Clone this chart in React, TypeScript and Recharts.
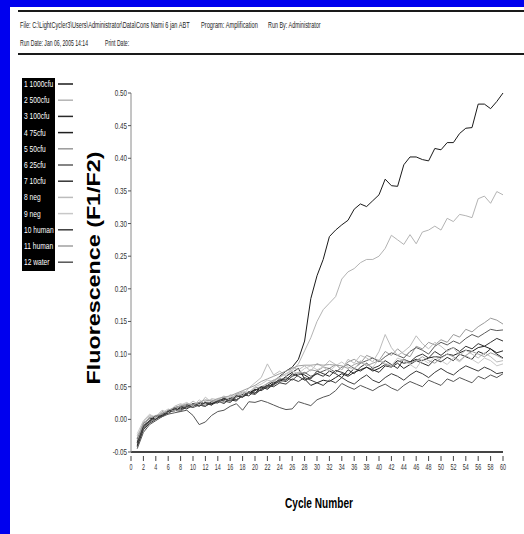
import React from 'react'
import { LineChart, Line, XAxis, YAxis, Legend } from 'recharts'

const cycles = [
  1, 2, 3, 4, 5, 6, 7, 8, 9, 10, 11, 12, 13, 14, 15, 16, 17, 18, 19, 20,
  21, 22, 23, 24, 25, 26, 27, 28, 29, 30, 31, 32, 33, 34, 35, 36, 37, 38, 39, 40,
  41, 42, 43, 44, 45, 46, 47, 48, 49, 50, 51, 52, 53, 54, 55, 56, 57, 58, 59, 60
]

const xTicks = [0, 2, 4, 6, 8, 10, 12, 14, 16, 18, 20, 22, 24, 26, 28, 30, 32, 34, 36, 38, 40, 42, 44, 46, 48, 50, 52, 54, 56, 58, 60]
const yTicks = [-0.05, 0, 0.05, 0.1, 0.15, 0.2, 0.25, 0.3, 0.35, 0.4, 0.45, 0.5]

const s1000cfu = [
  -0.035, -0.01, -0.002, 0.005, 0.008, 0.012, 0.018, 0.02, 0.022, 0.022,
  0.024, 0.025, 0.024, 0.026, 0.03, 0.032, 0.03, 0.036, 0.04, 0.045,
  0.048, 0.052, 0.058, 0.066, 0.074, 0.08, 0.092, 0.12, 0.185, 0.22,
  0.245, 0.28, 0.29, 0.298, 0.305, 0.322, 0.33, 0.326, 0.335, 0.344,
  0.368, 0.358, 0.357, 0.39, 0.402, 0.402, 0.398, 0.396, 0.415, 0.413,
  0.424, 0.424, 0.438, 0.446, 0.447, 0.483, 0.483, 0.476, 0.487, 0.5
]
const s500cfu = [
  -0.03, -0.005, 0.0, 0.003, 0.01, 0.012, 0.015, 0.02, 0.018, 0.022,
  0.025, 0.022, 0.028, 0.03, 0.028, 0.034, 0.036, 0.04, 0.042, 0.048,
  0.05, 0.055, 0.06, 0.065, 0.07, 0.075, 0.085, 0.105, 0.125, 0.15,
  0.168, 0.178, 0.188, 0.215, 0.226, 0.231, 0.24, 0.245, 0.245, 0.25,
  0.262, 0.282, 0.275, 0.268, 0.283, 0.269, 0.287, 0.29, 0.296, 0.29,
  0.308, 0.303, 0.314, 0.312, 0.309, 0.338, 0.342, 0.331, 0.349, 0.344
]
const s100cfu = [
  -0.04, -0.012, -0.003, 0.004, 0.006, 0.014, 0.012, 0.02, 0.018, 0.024,
  0.022, 0.02, 0.027, 0.025, 0.032, 0.03, 0.028, 0.038, 0.042, 0.04,
  0.05, 0.048, 0.056, 0.06, 0.058, 0.066, 0.07, 0.068, 0.062, 0.074,
  0.07, 0.066, 0.075, 0.072, 0.068, 0.078, 0.074, 0.08, 0.076, 0.072,
  0.082, 0.08, 0.086, 0.078, 0.084, 0.09, 0.086, 0.082, 0.092, 0.088,
  0.095, 0.09, 0.1, 0.096, 0.092, 0.104, 0.1, 0.108, 0.102, 0.105
]
const s75cfu = [
  -0.03, -0.006, 0.002, 0.0, 0.01, 0.012, 0.018, 0.016, 0.022, 0.02,
  0.024, 0.026, 0.024, 0.028, 0.026, 0.032, 0.036, 0.034, 0.04, 0.046,
  0.044, 0.05, 0.054, 0.058, 0.066, 0.072, 0.078, 0.062, 0.052, 0.056,
  0.06, 0.058, 0.064, 0.07, 0.066, 0.072, 0.076, 0.08, 0.074, 0.078,
  0.084, 0.082, 0.09, 0.086, 0.088, 0.092, 0.09, 0.094, 0.096, 0.095,
  0.1, 0.098, 0.102, 0.106, 0.104, 0.11, 0.112, 0.108, 0.1, 0.094
]
const s50cfu = [
  -0.025, -0.01, 0.004, 0.002, 0.012, 0.008, 0.016, 0.022, 0.018, 0.024,
  0.02, 0.028, 0.03, 0.026, 0.034, 0.03, 0.038, 0.042, 0.04, 0.05,
  0.046, 0.055, 0.06, 0.056, 0.062, 0.068, 0.072, 0.07, 0.076, 0.074,
  0.08, 0.078, 0.084, 0.076, 0.088, 0.092, 0.086, 0.098, 0.094, 0.09,
  0.104, 0.098, 0.108, 0.1, 0.096, 0.112, 0.108, 0.118, 0.114, 0.122,
  0.118, 0.13, 0.126, 0.138, 0.134, 0.142, 0.148, 0.155, 0.152, 0.146
]
const s25cfu = [
  -0.038, -0.014, -0.004, 0.002, 0.004, 0.01, 0.014, 0.012, 0.02, 0.018,
  0.022, 0.02, 0.026, 0.028, 0.024, 0.032, 0.03, 0.036, 0.04, 0.038,
  0.046, 0.05, 0.052, 0.06, 0.064, 0.06, 0.068, 0.072, 0.066, 0.07,
  0.074, 0.078, 0.072, 0.08, 0.084, 0.078, 0.086, 0.09, 0.094, 0.088,
  0.096, 0.102, 0.098, 0.094, 0.104, 0.11, 0.106, 0.1, 0.112, 0.118,
  0.114, 0.12, 0.116, 0.124, 0.13, 0.126, 0.132, 0.138, 0.136, 0.137
]
const s10cfu = [
  -0.042, -0.016, -0.006, 0.0, 0.006, 0.01, 0.016, 0.018, 0.016, 0.022,
  0.026, 0.024, 0.022, 0.03, 0.028, 0.026, 0.034, 0.038, 0.036, 0.044,
  0.05, 0.046, 0.054, 0.062, 0.06, 0.07, 0.066, 0.06, 0.064, 0.07,
  0.066, 0.074, 0.07, 0.064, 0.076, 0.07, 0.08, 0.086, 0.078, 0.082,
  0.09, 0.084, 0.078, 0.092, 0.088, 0.096, 0.1, 0.094, 0.104, 0.098,
  0.106, 0.11, 0.104, 0.112, 0.108, 0.116, 0.112, 0.118, 0.124, 0.12
]
const sNeg8 = [
  -0.028, -0.004, 0.006, 0.004, 0.014, 0.01, 0.02, 0.024, 0.02, 0.028,
  0.022, 0.034, 0.026, 0.03, 0.036, 0.028, 0.04, 0.036, 0.048, 0.056,
  0.064, 0.085, 0.068, 0.074, 0.066, 0.08, 0.076, 0.082, 0.074, 0.086,
  0.08, 0.09, 0.084, 0.076, 0.092, 0.086, 0.098, 0.094, 0.088, 0.104,
  0.13, 0.11, 0.098, 0.104, 0.112, 0.128, 0.116, 0.108, 0.118, 0.112,
  0.104, 0.11, 0.098, 0.106, 0.1, 0.094, 0.102, 0.096, 0.088, 0.09
]
const sNeg9 = [
  -0.022, -0.002, 0.008, 0.002, 0.01, 0.016, 0.012, 0.022, 0.026, 0.02,
  0.03, 0.024, 0.032, 0.03, 0.026, 0.038, 0.034, 0.044, 0.04, 0.05,
  0.054, 0.06, 0.058, 0.064, 0.07, 0.074, 0.07, 0.078, 0.082, 0.076,
  0.08, 0.074, 0.082, 0.088, 0.08, 0.076, 0.09, 0.084, 0.08, 0.092,
  0.086, 0.082, 0.094, 0.09, 0.084, 0.078, 0.092, 0.086, 0.096, 0.09,
  0.084, 0.094, 0.088, 0.098, 0.092, 0.086, 0.094, 0.09, 0.082, 0.085
]
const sHuman10 = [
  -0.036, -0.01, -0.002, 0.006, 0.004, 0.012, 0.016, 0.014, 0.02, 0.024,
  0.02, 0.026, 0.022, 0.028, 0.032, 0.028, 0.036, 0.034, 0.042, 0.04,
  0.046, 0.052, 0.05, 0.056, 0.054, 0.062, 0.058, 0.064, 0.06, 0.056,
  0.052, 0.06, 0.056, 0.064, 0.058, 0.054, 0.062, 0.068, 0.06, 0.056,
  0.064, 0.07, 0.066, 0.06, 0.068, 0.074, 0.07, 0.064, 0.072, 0.078,
  0.072, 0.068, 0.076, 0.082, 0.078, 0.074, 0.08, 0.076, 0.07, 0.072
]
const sHuman11 = [
  -0.032, -0.006, 0.002, 0.006, 0.008, 0.014, 0.018, 0.02, 0.024, 0.022,
  0.026, 0.03, 0.028, 0.032, 0.034, 0.036, 0.04, 0.044, 0.048, 0.052,
  0.058, 0.062, 0.066, 0.07, 0.074, 0.078, 0.082, 0.083, 0.083, 0.084,
  0.083, 0.084, 0.083, 0.082, 0.078, 0.084, 0.088, 0.082, 0.086, 0.09,
  0.084, 0.08, 0.088, 0.092, 0.086, 0.09, 0.096, 0.09, 0.086, 0.094,
  0.1, 0.096, 0.09, 0.098, 0.104, 0.1, 0.096, 0.102, 0.098, 0.093
]
const sWater = [
  -0.045, -0.02, -0.008, -0.002, 0.004, 0.008, 0.01, 0.012, 0.014, 0.006,
  -0.008, -0.004, 0.006, 0.012, 0.014, 0.02, 0.024, 0.014, 0.027, 0.026,
  0.029, 0.026, 0.022, 0.018, 0.015, 0.016, 0.027, 0.024, 0.021, 0.03,
  0.034, 0.037, 0.044, 0.055, 0.05, 0.046, 0.052, 0.048, 0.044, 0.05,
  0.054, 0.048, 0.044, 0.052, 0.058, 0.054, 0.05, 0.06, 0.056, 0.052,
  0.062, 0.058, 0.064, 0.06, 0.056, 0.066, 0.062, 0.068, 0.064, 0.07
]

const seriesNames = [
  '1 1000cfu', '2 500cfu', '3 100cfu', '4 75cfu', '5 50cfu', '6 25cfu',
  '7 10cfu', '8 neg', '9 neg', '10 human', '11 human', '12 water'
]
const seriesValues = [
  s1000cfu, s500cfu, s100cfu, s75cfu, s50cfu, s25cfu,
  s10cfu, sNeg8, sNeg9, sHuman10, sHuman11, sWater
]

// grey levels of the printout, same order as seriesNames
const lineColors = [
  '#1a1a1a', '#b4b4b4', '#2a2a2a', '#202020', '#9a9a9a', '#5c5c5c',
  '#333333', '#bcbcbc', '#c8c8c8', '#3c3c3c', '#a0a0a0', '#555555'
]

const rows = cycles.map((cycle, i) => {
  const row: Record<string, number> = { cycle }
  seriesValues.forEach((vals, k) => {
    row['s' + k] = vals[i]
  })
  return row
})

const FONT = "'Liberation Sans', Arial, Helvetica, sans-serif"
const headerFile = 'File: C:\\LightCycler3\\Users\\Administrator\\Data\\Cons Nami 6 jan ABT'

// the printout is squeezed sideways, so small texts are drawn narrow
const Narrow = ({ x, y, sx, size, anchor, fill, children }: any) => (
  <text
    transform={`translate(${x},${y}) scale(${sx},1)`}
    textAnchor={anchor || 'start'}
    fontSize={size}
    fontFamily={FONT}
    fill={fill || '#222'}
  >
    {children}
  </text>
)

const XTick = (props: any) => {
  const { x, y, payload } = props
  return (
    <g>
      <line x1={x} x2={x} y1={y + 4} y2={y + 9} stroke="#444" strokeWidth={1} />
      <Narrow x={x} y={y + 18} sx={0.6} size={9} anchor="middle" fill="#333">
        {payload.value}
      </Narrow>
    </g>
  )
}

const YTick = (props: any) => {
  const { x, y, payload } = props
  return (
    <g>
      <line x1={x - 3} x2={x} y1={y} y2={y} stroke="#555" strokeWidth={1} />
      <Narrow x={x - 4} y={y + 3} sx={0.7} size={9} anchor="end" fill="#333">
        {Number(payload.value).toFixed(2)}
      </Narrow>
    </g>
  )
}

const LegendBox = () => (
  <svg width={90} height={280} style={{ display: 'block' }}>
    <rect x={22} y={78} width={33} height={193} fill="#000" />
    {seriesNames.map((name, i) => {
      const cy = 84 + i * 16.2
      return (
        <g key={name}>
          <Narrow x={24} y={cy + 3} sx={0.74} size={9} fill="#fff">
            {name}
          </Narrow>
          <line x1={58} x2={73} y1={cy} y2={cy} stroke={lineColors[i]} strokeWidth={1.5} />
        </g>
      )
    })}
  </svg>
)

export default function App() {
  return (
    <div
      style={{
        position: 'absolute',
        left: 0,
        top: 0,
        width: 524,
        height: 534,
        background: '#fff',
        overflow: 'hidden'
      }}
    >
      <div style={{ position: 'absolute', left: 0, top: 0, width: 10, height: 534, background: '#0000ee' }} />
      <div style={{ position: 'absolute', left: 0, top: 0, width: 524, height: 7, background: '#0000ee' }} />

      <div style={{ position: 'absolute', left: 0, top: 0 }}>
        <LineChart width={524} height={534} data={rows} margin={{ top: 93, right: 21, bottom: 52, left: 86 }}>
          <XAxis
            dataKey="cycle"
            type="number"
            domain={[0, 60]}
            ticks={xTicks}
            interval={0}
            height={30}
            tickSize={0}
            tickMargin={0}
            tickLine={false}
            axisLine={{ stroke: '#444', strokeWidth: 2 }}
            tick={<XTick />}
          />
          <YAxis
            type="number"
            domain={[-0.05, 0.5]}
            ticks={yTicks}
            interval={0}
            width={45}
            allowDataOverflow
            tickSize={0}
            tickMargin={0}
            tickLine={false}
            axisLine={{ stroke: '#8a8a8a', strokeWidth: 1 }}
            tick={<YTick />}
          />
          <Legend
            layout="horizontal"
            verticalAlign="middle"
            align="center"
            content={<LegendBox />}
            wrapperStyle={{ left: 0, top: 0, width: 90, height: 280 }}
          />
          {seriesNames.map((name, k) => (
            <Line
              key={name}
              name={name}
              type="linear"
              dataKey={'s' + k}
              stroke={lineColors[k]}
              strokeWidth={1}
              dot={false}
              activeDot={false}
              isAnimationActive={false}
            />
          ))}
        </LineChart>
      </div>

      <svg
        width={524}
        height={534}
        style={{ position: 'absolute', left: 0, top: 0, pointerEvents: 'none' }}
        fontFamily={FONT}
      >
        <rect x={18} y={10} width={506} height={2} fill="#1a1a1a" />
        <rect x={18} y={53} width={506} height={2} fill="#1a1a1a" />
        <Narrow x={20} y={28} sx={0.66} size={8.5}>{headerFile}</Narrow>
        <Narrow x={201} y={28} sx={0.67} size={8.5}>Program: Amplification</Narrow>
        <Narrow x={268} y={28} sx={0.64} size={8.5}>Run By: Administrator</Narrow>
        <Narrow x={20} y={46} sx={0.6} size={8.5}>Run Date: Jan 06, 2005 14:14</Narrow>
        <Narrow x={105} y={46} sx={0.6} size={8.5}>Print Date:</Narrow>

        <text
          transform="translate(100,268) rotate(-90)"
          textAnchor="middle"
          fontSize={18}
          fontWeight="bold"
          fill="#000"
          textLength={233}
          lengthAdjust="spacingAndGlyphs"
        >
          Fluorescence (F1/F2)
        </text>
        <text
          x={319}
          y={508}
          textAnchor="middle"
          fontSize={15}
          fontWeight="bold"
          fill="#000"
          textLength={68}
          lengthAdjust="spacingAndGlyphs"
        >
          Cycle Number
        </text>
      </svg>
    </div>
  )
}
